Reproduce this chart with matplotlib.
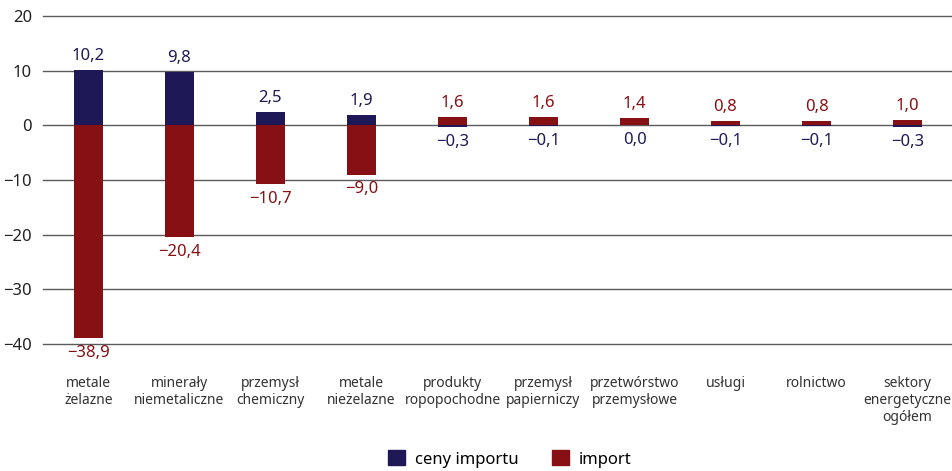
"""Import prices vs import volume by sector, bar chart"""

import matplotlib.pyplot as plt
import numpy as np
from matplotlib.patches import Patch

plt.rcParams["font.family"] = ["Noto Sans", "DejaVu Sans"]

categories = [
    "metale\nżelazne",
    "minerały\nniemetaliczne",
    "przemysł\nchemiczny",
    "metale\nnieżelazne",
    "produkty\nropopochodne",
    "przemysł\npapierniczy",
    "przetwórstwo\nprzemysłowe",
    "usługi",
    "rolnictwo",
    "sektory\nenergetyczne\nogółem",
]
ceny_importu = [10.2, 9.8, 2.5, 1.9, -0.3, -0.1, 0.0, -0.1, -0.1, -0.3]
import_vals = [-38.9, -20.4, -10.7, -9.0, 1.6, 1.6, 1.4, 0.8, 0.8, 1.0]
y_ticks = [-40, -30, -20, -10, 0, 10, 20]

BLUE = "#1e1956"
RED = "#861013"
GRID = "#5a5a5a"


def fmt(v, digits=1):
    s = f"{abs(v):.{digits}f}".replace(".", ",")
    return ("\u2212" + s) if v < 0 else s


fig = plt.figure(figsize=(9.53, 4.71), dpi=100)
ax = fig.add_axes([43 / 953, 1 - 344 / 471, 910 / 953, 328 / 471])

x = np.arange(len(categories))
width = 0.31
ax.bar(x, ceny_importu, width=width, color=BLUE, zorder=3)
ax.bar(x, import_vals, width=width, color=RED, zorder=3)

# value labels: above positive bars, below zero/negative ones
for series, col in [(ceny_importu, BLUE), (import_vals, RED)]:
    for i, v in enumerate(series):
        if v > 0:
            ax.annotate(fmt(v), (x[i], v), xytext=(0, 4), textcoords="offset points",
                        ha="center", va="bottom", color=col, fontsize=12, zorder=4)
        else:
            ax.annotate(fmt(v), (x[i], v), xytext=(0, -5), textcoords="offset points",
                        ha="center", va="top", color=col, fontsize=12, zorder=4)

ax.set_xlim(-0.5, len(categories) - 0.5)
ax.set_ylim(-40, 20)
ax.set_yticks(y_ticks)
ax.set_yticklabels([fmt(t, 0) for t in y_ticks], fontsize=12, color="#222222")
for t in y_ticks:
    ax.axhline(t, color=GRID, linewidth=1.0, zorder=1, clip_on=False)
ax.tick_params(axis="y", length=0, pad=8)
ax.tick_params(axis="x", length=0)
ax.set_xticks(x)
ax.set_xticklabels([])
for s in ax.spines.values():
    s.set_visible(False)

# category names below the plot area
for i, name in enumerate(categories):
    ax.annotate(name, (i, -40), xytext=(0, -23), textcoords="offset points",
                ha="center", va="top", fontsize=10, color="#333333", linespacing=1.2)

handles = [Patch(color=BLUE, label="ceny importu"), Patch(color=RED, label="import")]
fig.legend(handles=handles, loc="center", bbox_to_anchor=(510 / 953, 1 - 459 / 471),
           ncol=2, frameon=False, fontsize=12, handlelength=1.0, handleheight=1.0,
           columnspacing=2.0, handletextpad=0.6)

fig.savefig("out.png", dpi=100)
